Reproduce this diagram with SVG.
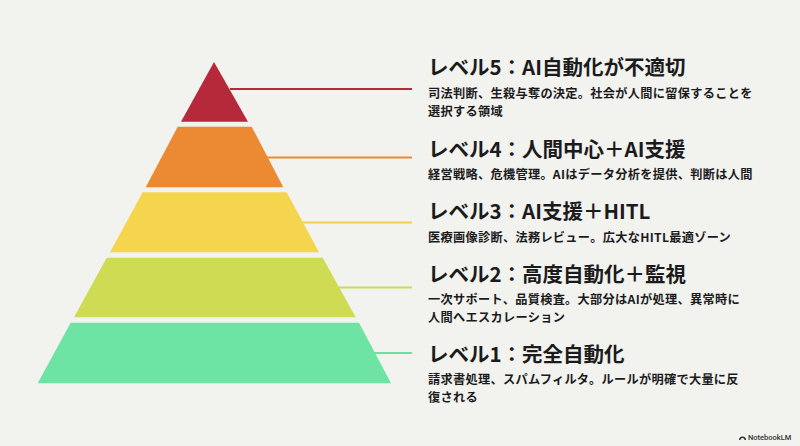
<svg xmlns="http://www.w3.org/2000/svg" width="800" height="446" viewBox="0 0 800 446">
<style>
.t{font-family:"Noto Sans CJK JP","Noto Sans",sans-serif;font-weight:700;font-size:20.5px;fill:#1b1b1d}
.d{font-family:"Noto Sans CJK JP","Noto Sans",sans-serif;font-weight:700;font-size:12.2px;letter-spacing:0.3px;fill:#1b1b1d}
.ld{stroke-width:2;fill:none}
</style>
<rect width="800" height="446" fill="#F2F2EE"/>
<g id="connectors">
<line class="ld" x1="230" y1="89" x2="412" y2="89" stroke="#B5293A"/>
<line class="ld" x1="267" y1="157.5" x2="412" y2="157.5" stroke="#EA8A35"/>
<line class="ld" x1="303" y1="222.5" x2="412" y2="222.5" stroke="#F2D04F"/>
<line class="ld" x1="338" y1="287.5" x2="412" y2="287.5" stroke="#CCD95A"/>
<line class="ld" x1="374" y1="353" x2="412" y2="353" stroke="#6DDFA2"/>
</g>
<g id="level5">
<polygon points="214,62 248,121.7 181,121.7" fill="#B5293A"/>
<text class="t" x="428" y="75">レベル5：AI自動化が不適切</text>
<text class="d" x="428" y="97.8">司法判断、生殺与奪の決定。社会が人間に留保することを</text>
<text class="d" x="428" y="115.8">選択する領域</text>
</g>
<g id="level4">
<polygon points="177.7,126.7 251.7,126.7 283.3,187.3 145.7,187.3" fill="#EC8A34"/>
<text class="t" x="428" y="157">レベル4：人間中心＋AI支援</text>
<text class="d" x="428" y="179">経営戦略、危機管理。AIはデータ分析を提供、判断は人間</text>
</g>
<g id="level3">
<polygon points="142.7,192.3 286.7,192.3 319,252.3 110,252.3" fill="#F6D54E"/>
<text class="t" x="428" y="219">レベル3：AI支援＋HITL</text>
<text class="d" x="428" y="241.5">医療画像診断、法務レビュー。広大なHITL最適ゾーン</text>
</g>
<g id="level2">
<polygon points="106.7,257.7 322.7,257.7 355.7,317.3 74,317.3" fill="#CFDC53"/>
<text class="t" x="428" y="281.5">レベル2：高度自動化＋監視</text>
<text class="d" x="428" y="304">一次サポート、品質検査。大部分はAIが処理、異常時に</text>
<text class="d" x="428" y="322">人間へエスカレーション</text>
</g>
<g id="level1">
<polygon points="70.7,322.7 359,322.7 391,383.3 37.7,383.3" fill="#6DE3A4"/>
<text class="t" x="428" y="361.5">レベル1：完全自動化</text>
<text class="d" x="428" y="384">請求書処理、スパムフィルタ。ルールが明確で大量に反</text>
<text class="d" x="428" y="402">復される</text>
</g>
<g id="watermark">
<path d="M739,440 a3.5,3.5 0 0 1 7,0 h-1.5 a2,2 0 0 0 -4,0 z" fill="#333"/>
<text x="748" y="440" font-family="Roboto,'Liberation Sans',sans-serif" font-size="7.5" font-weight="500" fill="#333">NotebookLM</text>
</g>
</svg>
